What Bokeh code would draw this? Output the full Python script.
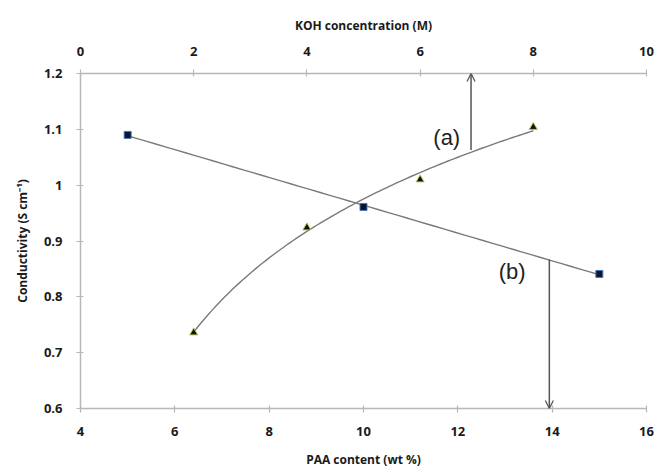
import numpy as np
from bokeh.plotting import figure
from bokeh.models import (Range1d, LinearAxis, FixedTicker, Arrow, OpenHead,
                          Label)
from bokeh.embed import file_html
from bokeh.resources import INLINE

# ---- data ----
paa_content = [5, 10, 15]                 # wt %  (series b, bottom axis)
cond_b = [1.090, 0.961, 0.841]            # S cm^-1
koh_conc = [2, 4, 6, 8]                   # M     (series a, top axis)
cond_a = [0.736, 0.924, 1.010, 1.104]     # S cm^-1

bottom_ticks = [4, 6, 8, 10, 12, 14, 16]
top_ticks = [0, 2, 4, 6, 8, 10]
y_ticks = [0.6, 0.7, 0.8, 0.9, 1.0, 1.1, 1.2]
y_tick_labels = ["0.6", "0.7", "0.8", "0.9", "1", "1.1", "1.2"]

# arrow annotations (bottom-axis units / conductivity)
arrow_a = dict(x=12.28, y_start=1.063, y_end=1.2)
arrow_b = dict(x=13.94, y_start=0.867, y_end=0.6)

# ---- trend lines fitted from data ----
b_fit = np.polyfit(paa_content, cond_b, 1)
xb = np.linspace(min(paa_content), max(paa_content), 50)
yb = np.polyval(b_fit, xb)

a_fit = np.polyfit(np.log(koh_conc), cond_a, 1)
xa = np.linspace(min(koh_conc), max(koh_conc), 100)
ya = np.polyval(a_fit, np.log(xa))

W, H = 659, 474
p = figure(width=W, height=H, output_backend="svg", toolbar_location=None,
           x_range=Range1d(4, 16), y_range=Range1d(0.6, 1.2),
           min_border_left=80, min_border_right=13,
           min_border_top=73, min_border_bottom=66)
p.extra_x_ranges = {"koh": Range1d(0, 10)}
p.outline_line_color = None
p.xgrid.visible = False
p.ygrid.visible = False
p.background_fill_color = "white"
p.border_fill_color = "white"

axis_color = "#b8b8b8"
tick_font = "Open Sans"


def style_axis(ax):
    ax.axis_line_color = axis_color
    ax.axis_line_width = 1.5
    ax.major_tick_line_color = axis_color
    ax.major_tick_line_width = 1.2
    ax.major_tick_in = 3
    ax.major_tick_out = 4
    ax.minor_tick_line_color = None
    ax.major_label_text_font = tick_font
    ax.major_label_text_font_style = "bold"
    ax.major_label_text_font_size = "13px"
    ax.major_label_text_color = "#1a1a1a"
    ax.axis_label_text_font = tick_font
    ax.axis_label_text_font_style = "bold"
    ax.axis_label_text_font_size = "12px"
    ax.axis_label_text_color = "#1a1a1a"


xa_ax = p.xaxis[0]
xa_ax.ticker = FixedTicker(ticks=bottom_ticks)
xa_ax.axis_label = "PAA content (wt %)"
style_axis(xa_ax)
xa_ax.major_label_standoff = 14
xa_ax.axis_label_standoff = 12

ya_ax = p.yaxis[0]
ya_ax.ticker = FixedTicker(ticks=y_ticks)
ya_ax.major_label_overrides = {t: l for t, l in zip(y_ticks, y_tick_labels)}
ya_ax.axis_label = "Conductivity (S cm\u207b\u00b9)"
style_axis(ya_ax)
ya_ax.major_label_standoff = 14
ya_ax.axis_label_standoff = 10

top_ax = LinearAxis(x_range_name="koh", ticker=FixedTicker(ticks=top_ticks),
                    axis_label="KOH concentration (M)")
style_axis(top_ax)
top_ax.major_label_standoff = 14
top_ax.axis_label_standoff = 10
p.add_layout(top_ax, "above")

# trend lines
line_color = "#7a7a7a"
p.line(xb, yb, line_color=line_color, line_width=1.4)
p.line(xa, ya, line_color=line_color, line_width=1.4, x_range_name="koh")

# markers
p.scatter(paa_content, cond_b, marker="square", size=7,
          fill_color="#0b1530", line_color="#4a78b8", line_width=1)
p.scatter(koh_conc, cond_a, marker="triangle", size=8, x_range_name="koh",
          fill_color="#111111", line_color="#b8c24a", line_width=1)

# arrows
arrow_color = "#555555"
p.add_layout(Arrow(end=OpenHead(size=8, line_color=arrow_color, line_width=1.3),
                   x_start=arrow_a["x"], y_start=arrow_a["y_start"],
                   x_end=arrow_a["x"], y_end=arrow_a["y_end"],
                   line_color=arrow_color, line_width=1.5))
p.add_layout(Arrow(end=OpenHead(size=8, line_color=arrow_color, line_width=1.3),
                   x_start=arrow_b["x"], y_start=arrow_b["y_start"],
                   x_end=arrow_b["x"], y_end=arrow_b["y_end"],
                   line_color=arrow_color, line_width=1.5))

# labels
p.add_layout(Label(x=12.05, y=1.085, text="(a)", text_align="right",
                   text_baseline="middle", text_font="Liberation Sans",
                   text_font_size="22px", text_color="#222222"))
p.add_layout(Label(x=13.15, y=0.845, text="(b)", text_align="center",
                   text_baseline="middle", text_font="Liberation Sans",
                   text_font_size="22px", text_color="#222222"))

open("out.html", "w").write(file_html(p, INLINE))
